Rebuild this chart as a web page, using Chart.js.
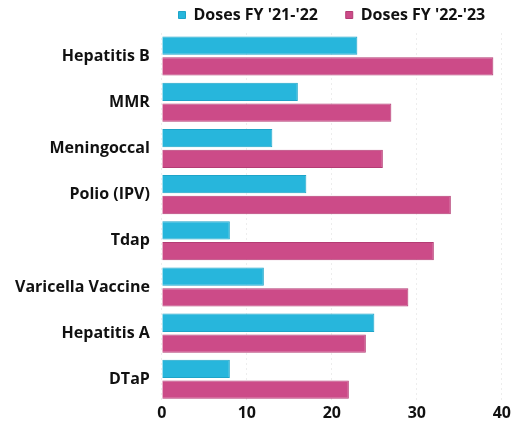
<!DOCTYPE html>
<html>
<head>
<meta charset="utf-8">
<script src="https://cdn.jsdelivr.net/npm/chart.js@4"></script>
<style>
  body { margin: 0; background: #fff; }
  #wrap { width: 512px; height: 424px; }
</style>
</head>
<body>
<div id="wrap"><canvas id="mycanvas"></canvas></div>
<script>
var vaccines = ["Hepatitis B", "MMR", "Meningoccal", "Polio (IPV)", "Tdap", "Varicella Vaccine", "Hepatitis A", "DTaP"];
var doses2122 = [23, 16, 13, 17, 8, 12, 25, 8];
var doses2223 = [39, 27, 26, 34, 32, 29, 24, 22];
var xTicks = [0, 10, 20, 30, 40];

var font = "'Open Sans', sans-serif";

var chartdata = {
    labels: vaccines,
    datasets: [
        {
            label: "Doses FY '21-'22",
            backgroundColor: "#27b6dc",
            borderColor: "#1ea4c8",
            borderWidth: 1,
            data: doses2122
        },
        {
            label: "Doses FY '22-'23",
            backgroundColor: "#cc4b88",
            borderColor: "#b43c74",
            borderWidth: 1,
            data: doses2223
        }
    ]
};

// center the legend over the plot area instead of the whole canvas
var legendOverPlot = {
    id: "legendOverPlot",
    afterLayout: function (chart) {
        var lg = chart.legend;
        if (!lg) return;
        lg.left = chart.chartArea.left;
        lg.right = chart.chartArea.right;
        lg.adjustHitBoxes();
    }
};

var ctx = document.getElementById("mycanvas");

var barChart = new Chart(ctx, {
    type: "bar",
    data: chartdata,
    plugins: [legendOverPlot],
    options: {
        indexAxis: "y",
        responsive: true,
        maintainAspectRatio: false,
        animation: false,
        categoryPercentage: 0.9,
        barPercentage: 0.88,
        layout: { padding: { left: 3, right: -14, top: 0, bottom: 0 } },
        plugins: {
            legend: {
                position: "top",
                labels: {
                    usePointStyle: true,
                    pointStyle: "rect",
                    boxWidth: 7,
                    boxHeight: 7,
                    padding: 7,
                    color: "#111",
                    font: { family: font, size: 16, weight: "bold" },
                    generateLabels: function (chart) {
                        var items = Chart.defaults.plugins.legend.labels.generateLabels(chart);
                        // wider gap between the two legend entries
                        items[0].text = items[0].text + "     ";
                        return items;
                    }
                }
            },
            tooltip: { enabled: false }
        },
        scales: {
            x: {
                min: 0,
                max: 40,
                afterBuildTicks: function (axis) {
                    axis.ticks = xTicks.map(function (v) { return { value: v }; });
                },
                grid: {
                    color: "rgba(0,0,0,0.07)",
                    drawTicks: false
                },
                border: { display: false, dash: [2, 3] },
                ticks: {
                    padding: 1,
                    color: "#111",
                    font: { family: font, size: 16, weight: "bold" }
                }
            },
            y: {
                grid: { display: false, drawTicks: false },
                border: { display: false },
                ticks: {
                    padding: 12,
                    color: "#111",
                    font: { family: font, size: 16, weight: "bold" }
                }
            }
        }
    }
});
</script>
</body>
</html>
